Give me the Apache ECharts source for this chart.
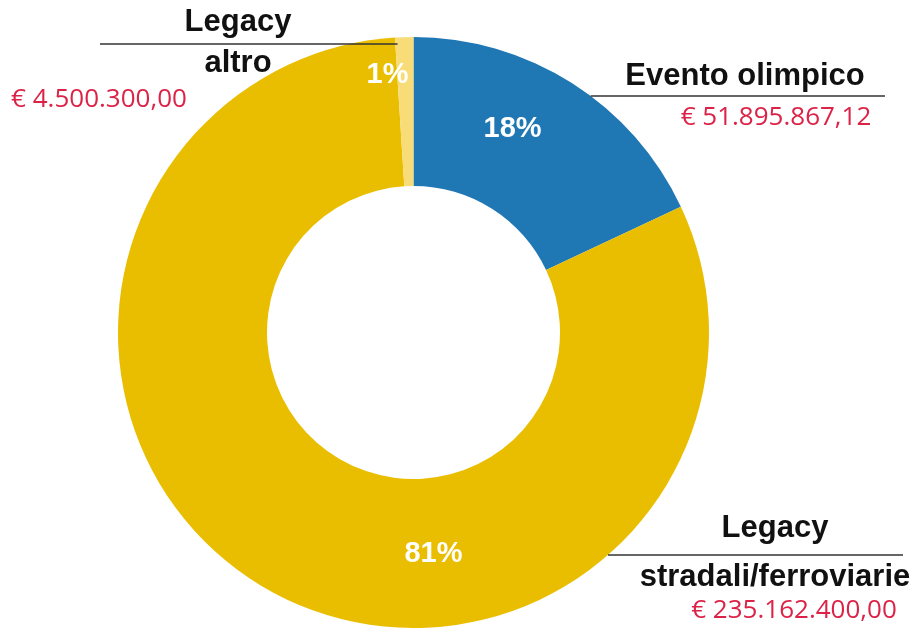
<!DOCTYPE html>
<html>
<head>
<meta charset="utf-8">
<title>Ripartizione investimenti</title>
<script src="https://cdn.jsdelivr.net/npm/echarts@6/dist/echarts.min.js"></script>
<style>
  html, body { margin: 0; padding: 0; background: #fff; }
  #chart { width: 922px; height: 629px; }
</style>
</head>
<body>
<div id="chart"></div>
<script>
// dati
const categories = ['Evento olimpico', 'Legacy stradali/ferroviarie', 'Legacy altro'];
const shares = [18, 81, 1];
const amounts = ['€ 51.895.867,12', '€ 235.162.400,00', '€ 4.500.300,00'];
const nameTop = ['Evento olimpico', 'Legacy', 'Legacy'];
const nameBottom = ['', 'stradali/ferroviarie', 'altro'];
const colors = ['#1f77b4', '#eabe00', '#f8dc78'];

// posizioni delle etichette (solo layout)
const cx = 413.5, cy = 332.5, rIn = 146.5, rOut = 295.5;
const lineY = [96, 555, 44];
const lineEnd = [885, 903, 100];
const labelX = [745, 775, 238];
const labelTop = [55, 503, 2];
const pctShift = [[-21, -14], [134, 29], [-19, -34]];

const boldFont = 'Liberation Sans, Arial, sans-serif';
const valFont = 'Open Sans, Noto Sans, sans-serif';

function richFor(i) {
  const n = { fontFamily: boldFont, fontWeight: 'bold', fontSize: 31, color: '#111' };
  const v = { fontFamily: valFont, fontSize: 26, color: '#dc2347' };
  if (i === 0) {
    return {
      n: Object.assign({}, n, { lineHeight: 42 }),
      v: Object.assign({}, v, { lineHeight: 42, padding: [0, 0, 0, 62] })
    };
  }
  if (i === 1) {
    return {
      n: Object.assign({}, n, { lineHeight: 50 }),
      n2: Object.assign({}, n, { lineHeight: 48 }),
      v: Object.assign({}, v, { lineHeight: 20, padding: [0, 0, 0, 38] })
    };
  }
  return {
    n: Object.assign({}, n, { lineHeight: 40 }),
    n2: Object.assign({}, n, { lineHeight: 42 }),
    v: Object.assign({}, v, { lineHeight: 32, padding: [0, 278, 0, 0] })
  };
}

function labelText(i) {
  let s = '{n|' + nameTop[i] + '}';
  if (nameBottom[i]) s += '\n{n2|' + nameBottom[i] + '}';
  return s + '\n{v|' + amounts[i] + '}';
}

const sliceData = categories.map((c, i) => ({
  name: c,
  value: shares[i],
  itemStyle: { color: colors[i] }
}));

const labelData = categories.map((c, i) => ({
  name: c,
  value: shares[i],
  label: { formatter: labelText(i), rich: richFor(i) }
}));

let myChart = echarts.init(document.getElementById('chart'));
myChart.setOption({
  animation: false,
  series: [
    {
      type: 'pie',
      z: 2,
      center: [cx, cy],
      radius: [rIn, rOut],
      startAngle: 90,
      clockwise: true,
      avoidLabelOverlap: false,
      silent: true,
      itemStyle: { borderWidth: 0 },
      label: {
        show: true,
        position: 'inside',
        formatter: '{c}%',
        color: '#fff',
        fontFamily: boldFont,
        fontWeight: 'bold',
        fontSize: 29
      },
      labelLine: { show: false },
      labelLayout: function (p) {
        return { dx: pctShift[p.dataIndex][0], dy: pctShift[p.dataIndex][1] };
      },
      data: sliceData
    },
    {
      // serie trasparente solo per le etichette esterne
      type: 'pie',
      z: 5,
      center: [cx, cy],
      radius: [rIn, rOut],
      startAngle: 90,
      clockwise: true,
      avoidLabelOverlap: false,
      silent: true,
      itemStyle: { color: 'rgba(0,0,0,0)', borderWidth: 0 },
      label: { show: true, position: 'outside', align: 'center' },
      labelLine: {
        show: true,
        length: 0,
        length2: 10,
        lineStyle: { color: '#333', width: 1.6 }
      },
      labelLayout: function (p) {
        const i = p.dataIndex;
        const y = lineY[i];
        const dx = Math.sqrt(rOut * rOut - (y - cy) * (y - cy));
        // il bordo della fetta dalla parte della linea
        const xEdge = lineEnd[i] > cx ? cx + dx : cx - 16;
        return {
          x: labelX[i],
          y: labelTop[i],
          align: 'center',
          verticalAlign: 'top',
          labelLinePoints: [[xEdge, y], [xEdge, y], [lineEnd[i], y]]
        };
      },
      data: labelData
    }
  ]
});
</script>
</body>
</html>
